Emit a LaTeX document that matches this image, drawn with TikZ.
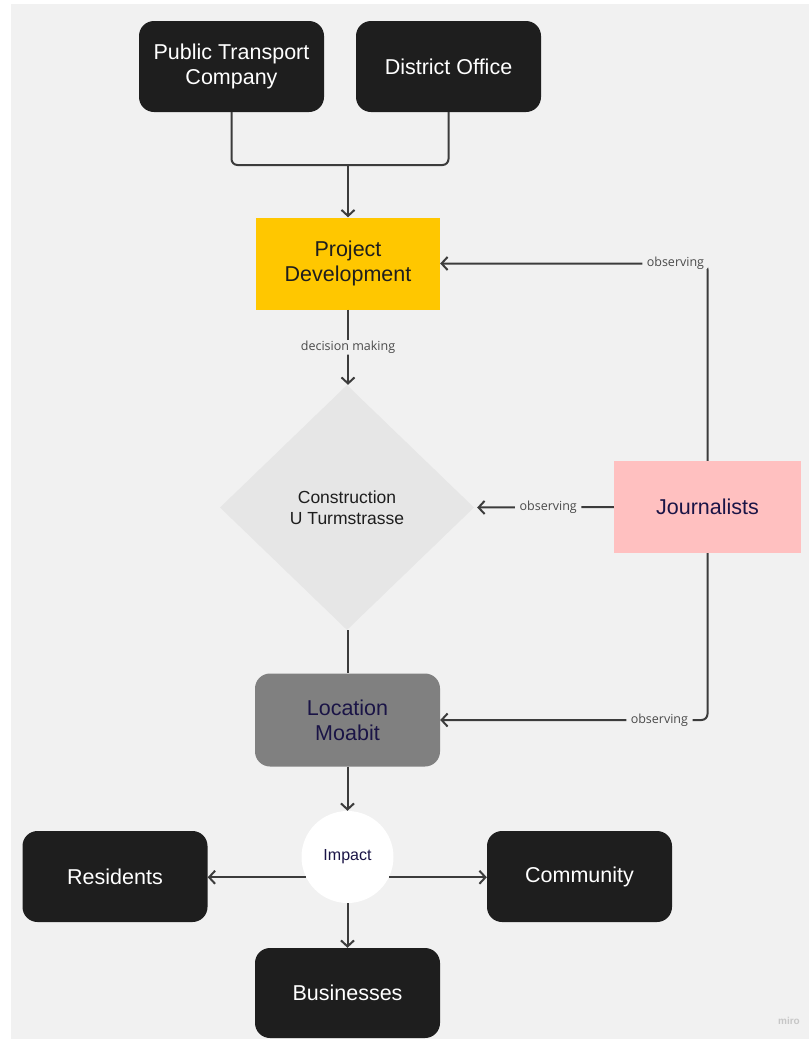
\documentclass[tikz,border=0pt]{standalone}
\usepackage{fontspec}
\setmainfont{Liberation Sans}
\newfontfamily\lblfont{Open Sans}
\usetikzlibrary{shapes.geometric,arrows.meta,calc}
\definecolor{bgc}{HTML}{F1F1F1}
\definecolor{boxblack}{HTML}{1E1E1E}
\definecolor{pdyellow}{HTML}{FFC700}
\definecolor{jpink}{HTML}{FFC0C0}
\definecolor{locgrey}{HTML}{808080}
\definecolor{diagrey}{HTML}{E6E6E6}
\definecolor{linec}{HTML}{3C3C3C}
\definecolor{navy}{HTML}{1A1446}
\definecolor{lblc}{HTML}{4A4A4A}
\begin{document}
\begin{tikzpicture}[x=1pt,y=-1pt,
  mainfont/.style={font=\fontsize{21.5}{25}\selectfont},
  basebox/.style={mainfont, align=center, inner sep=0pt, minimum width=185pt, minimum height=91pt},
  blackbox/.style={basebox, fill=boxblack, text=white, rounded corners=15pt},
  pdbox/.style={basebox, fill=pdyellow, text=boxblack, minimum width=184pt, minimum height=92pt},
  jbox/.style={basebox, fill=jpink, text=navy, minimum width=187pt, minimum height=92pt},
  locbox/.style={basebox, fill=locgrey, text=navy, rounded corners=15pt, minimum height=93pt},
  dia/.style={diamond, fill=diagrey, text=boxblack, align=center, inner sep=0pt, minimum width=254pt, minimum height=245pt, font=\fontsize{17.5}{21}\selectfont},
  impc/.style={circle, fill=white, text=navy, inner sep=0pt, minimum size=92pt, font=\fontsize{16}{19}\selectfont},
  conn/.style={draw=linec, line width=2pt, rounded corners=6pt},
  arr/.style={-{Straight Barb[length=6pt,width=13pt]}},
  lbl/.style={fill=bgc, text=lblc, inner xsep=4.5pt, inner ysep=1pt, font=\lblfont\fontsize{12.5}{14}\selectfont}
]
\useasboundingbox (0,0) rectangle (809,1039);
\fill[white] (0,0) rectangle (809,1039);
\fill[bgc] (11,4) rectangle (809,1039);

\node[blackbox] (ptc) at (231.5,66.5) {Public Transport\\Company};
\node[blackbox] (do) at (448.5,66.5) {District Office};
\node[pdbox] (pd) at (348,263.5) {Project\\Development};
\node[dia] (cons) at (347,507.5) {Construction\\U Turmstrasse};
\node[jbox] (jour) at (707.5,507) {Journalists};
\node[locbox] (loc) at (347.5,720) {Location\\Moabit};
\node[impc] (imp) at (347.5,857) {Impact};
\node[blackbox] (res) at (115,876.5) {Residents};
\node[blackbox] (com) at (579.5,876.5) {Community};
\node[blackbox, minimum height=90pt] (bus) at (347.5,993) {Businesses};
\coordinate (m) at (348,165);

\draw[conn] (ptc.south) |- (m);
\draw[conn] (do.south) |- (m);
\draw[conn,arr] (m) -- (pd.north);
\draw[conn,arr] (pd.south) -- node[lbl]{decision making} (pd.south |- cons.north);
\draw[conn,arr,shorten >=3pt] (jour.west) -- node[lbl,pos=0.47]{observing} (cons.east);
\draw[conn,arr] (jour.north) |- node[lbl,pos=0.56]{observing} (pd.east);
\draw[conn,arr] (jour.south) |- node[lbl,pos=0.59]{observing} (loc.east);
\draw[conn] (cons.south -| loc.north) -- (loc.north);
\draw[conn,arr] (loc.south) -- (imp.north);
\draw[conn,arr] (imp.206) -- (imp.206 -| res.east);
\draw[conn,arr] (imp.334) -- (imp.334 -| com.west);
\draw[conn,arr] (imp.south) -- (bus.north);

\node[text=black!22, font=\bfseries\fontsize{10}{10}\selectfont] (miro) at (789,1021) {miro};
\end{tikzpicture}
\end{document}
